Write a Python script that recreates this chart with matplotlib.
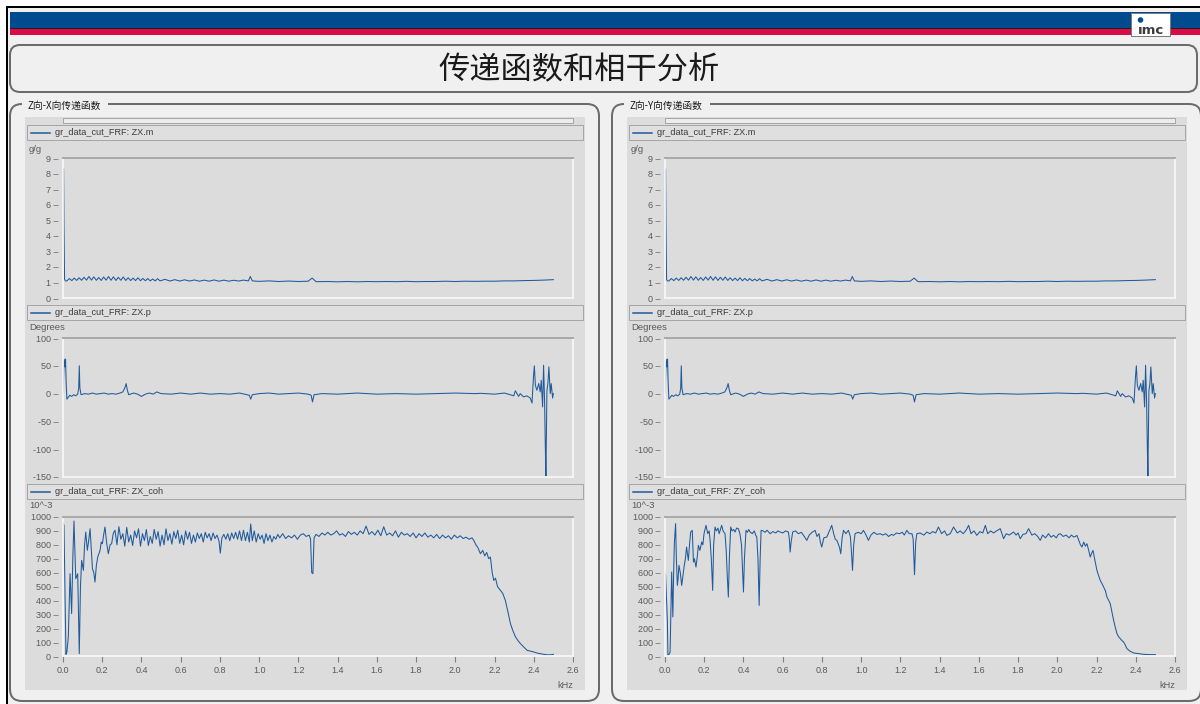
import matplotlib
matplotlib.use("Agg")
import matplotlib.pyplot as plt
from matplotlib.patches import Rectangle, FancyBboxPatch, Circle

# ---- data -------------------------------------------------------------------
title = "传递函数和相干分析"
group_titles = ["Z向-X向传递函数", "Z向-Y向传递函数"]
mag_legend = ["gr_data_cut_FRF: ZX.m", "gr_data_cut_FRF: ZX.m"]
phase_legend = ["gr_data_cut_FRF: ZX.p", "gr_data_cut_FRF: ZX.p"]
coh_legend = ["gr_data_cut_FRF: ZX_coh", "gr_data_cut_FRF: ZY_coh"]
units = ["g/g", "Degrees", "10^-3"]

mag_ticks = [0, 1, 2, 3, 4, 5, 6, 7, 8, 9]
phase_ticks = [-150, -100, -50, 0, 50, 100]
coh_ticks = [0, 100, 200, 300, 400, 500, 600, 700, 800, 900, 1000]
khz_ticks = [0.0, 0.2, 0.4, 0.6, 0.8, 1.0, 1.2, 1.4, 1.6, 1.8, 2.0, 2.2, 2.4, 2.6]

# magnitude (same trace in both panels)
mag_khz = [0.000, 0.003, 0.005, 0.008, 0.012, 0.020, 0.032, 0.045, 0.057, 0.070,
           0.082, 0.095, 0.107, 0.120, 0.132, 0.145, 0.157, 0.170, 0.182, 0.195,
           0.207, 0.220, 0.232, 0.245, 0.257, 0.270, 0.282, 0.295, 0.307, 0.320,
           0.332, 0.345, 0.357, 0.370, 0.382, 0.395, 0.407, 0.420, 0.432, 0.445,
           0.457, 0.470, 0.482, 0.495, 0.520, 0.545, 0.570, 0.595, 0.620, 0.645,
           0.670, 0.695, 0.720, 0.745, 0.770, 0.795, 0.820, 0.845, 0.870, 0.895,
           0.920, 0.945, 0.955, 0.965, 1.00, 1.05, 1.10, 1.15, 1.20, 1.25,
           1.27, 1.29, 1.35, 1.40, 1.45, 1.50, 1.55, 1.60, 1.65, 1.70,
           1.75, 1.80, 1.85, 1.90, 1.95, 2.00, 2.05, 2.10, 2.15, 2.20,
           2.25, 2.30, 2.35, 2.40, 2.45, 2.50]
mag_val = [8.3, 8.3, 4.6, 1.2, 1.1, 1.10, 1.25, 1.12, 1.28, 1.13,
           1.30, 1.14, 1.33, 1.15, 1.38, 1.15, 1.36, 1.14, 1.32, 1.13,
           1.35, 1.15, 1.38, 1.14, 1.36, 1.13, 1.33, 1.14, 1.35, 1.13,
           1.30, 1.12, 1.28, 1.12, 1.30, 1.11, 1.26, 1.11, 1.25, 1.10,
           1.22, 1.10, 1.24, 1.10, 1.20, 1.09, 1.18, 1.09, 1.17, 1.09,
           1.16, 1.08, 1.15, 1.08, 1.16, 1.08, 1.15, 1.08, 1.14, 1.09,
           1.15, 1.10, 1.38, 1.10, 1.07, 1.10, 1.06, 1.09, 1.06, 1.08,
           1.28, 1.05, 1.06, 1.04, 1.06, 1.04, 1.06, 1.05, 1.06, 1.05,
           1.07, 1.05, 1.06, 1.06, 1.08, 1.06, 1.08, 1.07, 1.08, 1.08,
           1.10, 1.10, 1.12, 1.13, 1.15, 1.18]

# phase in degrees (same trace in both panels)
ph_khz = [0.000, 0.003, 0.006, 0.010, 0.013, 0.016, 0.020, 0.026, 0.035, 0.044,
          0.055, 0.065, 0.075, 0.080, 0.083, 0.086, 0.092, 0.110, 0.130, 0.150,
          0.170, 0.190, 0.210, 0.230, 0.250, 0.270, 0.290, 0.305, 0.315, 0.322,
          0.328, 0.335, 0.360, 0.380, 0.400, 0.420, 0.440, 0.460, 0.478, 0.500,
          0.550, 0.600, 0.650, 0.700, 0.750, 0.800, 0.850, 0.900, 0.950, 0.957,
          0.965, 1.000, 1.050, 1.100, 1.150, 1.200, 1.250, 1.265, 1.272, 1.280,
          1.320, 1.400, 1.500, 1.600, 1.700, 1.800, 1.900, 2.000, 2.100, 2.130,
          2.200, 2.250, 2.280, 2.298, 2.306, 2.323, 2.331, 2.348, 2.365, 2.382,
          2.391, 2.396, 2.399, 2.403, 2.408, 2.416, 2.425, 2.433, 2.438, 2.445,
          2.450, 2.455, 2.459, 2.462, 2.464, 2.467, 2.472, 2.477, 2.484, 2.489,
          2.496, 2.500]
ph_deg = [0, 30, 62, 48, 62, 20, -10, -7, -3, -5,
          -2, -4, -1, 10, 50, 10, -2, 0, -1, 1,
          -1, 0, 1, -1, 0, -1, 1, 3, 10, 18,
          6, -2, 1, -1, -5, -1, 1, -1, 3, 0,
          -1, 1, -1, 1, -1, 0, -1, 1, -3, -10,
          -2, 0, 1, -1, 0, 1, -1, -3, -15, -2,
          0, -1, 1, -1, 0, -1, 0, 1, 0, 0.5,
          -1, 1, -2, -4, 5, -5, 0, -6, -4, -8,
          -17, 15, 33, 50, 15, 6, 18, 3, 24, -24,
          51, -12, -98, -149, -83, 5, 18, 48, 0, 18,
          -8, 0]

# coherence Z/X (x 10^-3)
cohx_khz = [0.000, 0.005, 0.010, 0.015, 0.020, 0.027, 0.036, 0.044, 0.050, 0.056,
            0.065, 0.075, 0.079, 0.083, 0.089, 0.095, 0.104, 0.110, 0.116, 0.124,
            0.130, 0.138, 0.150, 0.157, 0.163, 0.170, 0.177, 0.189, 0.195, 0.201,
            0.207, 0.214, 0.222, 0.231, 0.240, 0.248, 0.256, 0.265, 0.275, 0.285,
            0.295, 0.305, 0.315, 0.325, 0.335, 0.345, 0.355, 0.365, 0.375, 0.385,
            0.395, 0.405, 0.415, 0.425, 0.435, 0.445, 0.455, 0.465, 0.475, 0.485,
            0.495, 0.505, 0.515, 0.525, 0.535, 0.545, 0.555, 0.565, 0.575, 0.585,
            0.595, 0.605, 0.615, 0.625, 0.635, 0.645, 0.655, 0.665, 0.675, 0.685,
            0.695, 0.705, 0.715, 0.725, 0.735, 0.745, 0.755, 0.765, 0.775, 0.785,
            0.795, 0.802, 0.810, 0.820, 0.830, 0.840, 0.850, 0.860, 0.870, 0.880,
            0.890, 0.900, 0.910, 0.920, 0.930, 0.940, 0.950, 0.957, 0.965, 0.975,
            0.985, 0.995, 1.005, 1.015, 1.025, 1.035, 1.045, 1.055, 1.065, 1.075,
            1.085, 1.095, 1.105, 1.120, 1.135, 1.150, 1.165, 1.180, 1.195, 1.210,
            1.225, 1.240, 1.255, 1.262, 1.268, 1.274, 1.280, 1.290, 1.305, 1.320,
            1.335, 1.350, 1.365, 1.380, 1.395, 1.410, 1.425, 1.440, 1.455, 1.470,
            1.485, 1.500, 1.515, 1.530, 1.545, 1.560, 1.575, 1.590, 1.605, 1.620,
            1.635, 1.650, 1.665, 1.680, 1.695, 1.710, 1.725, 1.740, 1.755, 1.770,
            1.785, 1.800, 1.815, 1.830, 1.845, 1.860, 1.875, 1.890, 1.905, 1.920,
            1.935, 1.950, 1.965, 1.980, 1.995, 2.010, 2.025, 2.040, 2.055, 2.070,
            2.085, 2.094, 2.105, 2.115, 2.128, 2.140, 2.150, 2.160, 2.170, 2.179,
            2.188, 2.196, 2.205, 2.215, 2.230, 2.242, 2.255, 2.268, 2.281, 2.294,
            2.307, 2.320, 2.332, 2.345, 2.366, 2.383, 2.400, 2.420, 2.440, 2.460,
            2.480, 2.500]
cohx_val = [960, 940, 472, 12, 30, 137, 592, 305, 700, 971,
            556, 592, 300, 17, 500, 688, 616, 800, 892, 760,
            820, 916, 628, 600, 532, 650, 712, 760, 820, 808,
            870, 928, 820, 736, 800, 808, 880, 905, 800, 930,
            840, 880, 790, 925, 820, 870, 795, 900, 850, 915,
            790, 880, 830, 910, 795, 860, 810, 910, 840, 895,
            790, 870, 800, 915, 830, 880, 805, 895, 845, 905,
            810, 870, 800, 900, 840, 890, 810, 870, 820, 885,
            845, 880, 820, 890, 850, 880, 830, 885, 845, 870,
            830, 740, 850, 875, 840, 880, 830, 885, 845, 890,
            840, 900, 830, 905, 830, 890, 820, 950, 830, 900,
            820, 880, 840, 870, 810, 880, 830, 870, 820, 860,
            840, 875, 850, 880, 845, 865, 850, 870, 840, 870,
            880, 860, 870, 840, 600, 592, 850, 875, 860, 885,
            870, 890, 870, 880, 900, 870, 880, 860, 895, 875,
            890, 870, 900, 880, 935, 875, 895, 870, 905, 865,
            930, 870, 885, 865, 900, 855, 890, 870, 880, 860,
            885, 850, 880, 860, 885, 855, 870, 850, 875, 845,
            870, 850, 865, 840, 870, 850, 865, 845, 855, 840,
            850, 832, 800, 780, 736, 760, 720, 745, 700, 712,
            600, 544, 560, 500, 472, 450, 400, 320, 233, 180,
            137, 110, 89, 70, 41, 35, 29, 20, 15, 10,
            8, 12]

# coherence Z/Y (x 10^-3)
cohy_khz = [0.000, 0.003, 0.008, 0.012, 0.015, 0.020, 0.026, 0.030, 0.034, 0.040,
            0.044, 0.048, 0.054, 0.058, 0.063, 0.067, 0.071, 0.078, 0.085, 0.090,
            0.097, 0.104, 0.110, 0.119, 0.125, 0.131, 0.139, 0.145, 0.150, 0.158,
            0.165, 0.170, 0.178, 0.187, 0.193, 0.199, 0.209, 0.218, 0.225, 0.230,
            0.236, 0.243, 0.248, 0.255, 0.262, 0.270, 0.276, 0.281, 0.289, 0.296,
            0.306, 0.312, 0.318, 0.323, 0.328, 0.335, 0.342, 0.350, 0.357, 0.365,
            0.374, 0.382, 0.390, 0.396, 0.400, 0.405, 0.413, 0.420, 0.427, 0.434,
            0.445, 0.455, 0.462, 0.468, 0.474, 0.480, 0.485, 0.490, 0.500, 0.510,
            0.520, 0.536, 0.550, 0.565, 0.575, 0.587, 0.600, 0.615, 0.629, 0.634,
            0.638, 0.643, 0.651, 0.665, 0.680, 0.695, 0.710, 0.723, 0.735, 0.750,
            0.765, 0.775, 0.785, 0.792, 0.799, 0.810, 0.825, 0.835, 0.850, 0.860,
            0.868, 0.876, 0.885, 0.890, 0.896, 0.903, 0.910, 0.922, 0.935, 0.945,
            0.950, 0.956, 0.962, 0.969, 0.985, 1.000, 1.012, 1.025, 1.037, 1.050,
            1.065, 1.080, 1.097, 1.110, 1.125, 1.140, 1.155, 1.165, 1.180, 1.195,
            1.210, 1.220, 1.233, 1.245, 1.259, 1.265, 1.272, 1.278, 1.284, 1.300,
            1.320, 1.335, 1.350, 1.365, 1.380, 1.394, 1.410, 1.425, 1.437, 1.454,
            1.471, 1.490, 1.505, 1.520, 1.535, 1.548, 1.560, 1.575, 1.590, 1.605,
            1.620, 1.633, 1.645, 1.660, 1.675, 1.690, 1.709, 1.718, 1.726, 1.740,
            1.755, 1.777, 1.790, 1.800, 1.811, 1.825, 1.840, 1.854, 1.870, 1.885,
            1.900, 1.913, 1.925, 1.940, 1.955, 1.968, 1.981, 1.995, 2.005, 2.015,
            2.030, 2.045, 2.060, 2.072, 2.083, 2.092, 2.100, 2.110, 2.118, 2.126,
            2.135, 2.143, 2.151, 2.160, 2.168, 2.175, 2.182, 2.190, 2.202, 2.210,
            2.219, 2.228, 2.236, 2.245, 2.253, 2.262, 2.270, 2.278, 2.287, 2.295,
            2.304, 2.312, 2.321, 2.330, 2.338, 2.346, 2.355, 2.370, 2.389, 2.410,
            2.440, 2.470, 2.500]
cohy_val = [600, 580, 400, 257, 5, 10, 29, 300, 604, 281,
            600, 820, 952, 700, 508, 560, 652, 600, 508, 560,
            640, 700, 784, 688, 800, 892, 904, 676, 700, 640,
            720, 796, 760, 820, 800, 880, 940, 880, 900, 832,
            700, 472, 800, 928, 900, 920, 880, 904, 940, 900,
            880, 760, 560, 424, 700, 928, 900, 910, 892, 920,
            916, 880, 800, 600, 460, 700, 904, 890, 910, 892,
            880, 900, 870, 856, 700, 364, 700, 904, 900, 890,
            905, 880, 895, 885, 900, 892, 885, 900, 892, 840,
            748, 820, 892, 900, 880, 890, 860, 832, 870, 890,
            904, 860, 880, 820, 784, 850, 856, 890, 940, 880,
            840, 832, 800, 780, 736, 850, 904, 880, 904, 860,
            760, 616, 800, 880, 890, 880, 904, 870, 832, 870,
            890, 875, 880, 870, 880, 860, 875, 868, 885, 880,
            890, 870, 904, 880, 880, 844, 585, 820, 880, 885,
            870, 892, 880, 895, 885, 928, 880, 900, 868, 880,
            928, 885, 900, 880, 905, 940, 880, 900, 868, 895,
            885, 940, 880, 900, 885, 900, 916, 880, 844, 880,
            870, 892, 870, 885, 844, 875, 880, 916, 870, 880,
            860, 832, 870, 850, 880, 855, 868, 850, 875, 880,
            860, 870, 850, 870, 856, 860, 868, 830, 800, 784,
            820, 790, 808, 760, 712, 740, 760, 700, 616, 580,
            544, 520, 496, 470, 424, 400, 376, 320, 257, 210,
            161, 140, 125, 110, 101, 80, 53, 35, 22, 18,
            12, 10, 10]

# ---- colours ---------------------------------------------------------------
WIN = "#f0f0f0"
PANEL = "#dcdcdc"
FRAME = "#6b6b6b"
LINE = "#1f5a9c"
TICK = "#5a5a5a"
IMC_BLUE = "#004b8d"
IMC_RED = "#d80a48"

W, H = 1200, 704
PX = 0.72  # points per pixel at dpi 100

fig = plt.figure(figsize=(12, 7.04), dpi=100)
fig.patch.set_facecolor("white")
bg = fig.add_axes([0, 0, 1, 1])
bg.set_xlim(0, W)
bg.set_ylim(H, 0)
bg.axis("off")

cjk = ["Noto Sans CJK SC", "DejaVu Sans"]

# window frame + header
bg.add_patch(Rectangle((7, 7), W, H, facecolor=WIN, edgecolor="black", lw=2 * PX))
bg.add_patch(Rectangle((10, 12), W - 10, 16, facecolor=IMC_BLUE, edgecolor="none"))
bg.add_patch(Rectangle((10, 28), W - 10, 1.2, facecolor="#202020", edgecolor="none"))
bg.add_patch(Rectangle((10, 29.2), W - 10, 6, facecolor=IMC_RED, edgecolor="none"))
bg.add_patch(Rectangle((1131, 13), 39, 23, facecolor="white", edgecolor="#7a7a7a", lw=PX))
bg.add_patch(Circle((1140.5, 20), 2.8, facecolor=IMC_BLUE, edgecolor="none"))
bg.text(1151, 30, "\u0131mc", ha="center", va="center", fontsize=9.5, weight="bold",
        color="#3c3c3c", family="DejaVu Sans")

# title box
bg.add_patch(FancyBboxPatch((10, 45), 1187, 47, boxstyle="round,pad=0,rounding_size=10",
                            facecolor=WIN, edgecolor=FRAME, lw=2 * PX))
bg.text(579, 70, title, ha="center", va="center", fontsize=22.5, family=cjk, color="#1a1a1a")


def px_axes(x0, y0, x1, y1):
    return fig.add_axes([x0 / W, 1 - y1 / H, (x1 - x0) / W, (y1 - y0) / H])


def chart(ax, khz, vals, ylim, ticks, show_x):
    ax.set_facecolor(PANEL)
    ax.plot(khz, vals, color=LINE, lw=0.75)
    ax.set_xlim(0, 2.6)
    ax.set_ylim(*ylim)
    ax.set_yticks(ticks)
    ax.set_yticklabels([f"{t} \u2013" for t in ticks])
    ax.tick_params(axis="y", length=0, pad=3, labelsize=6.5, labelcolor=TICK)
    ax.set_xticks(khz_ticks)
    if show_x:
        ax.set_xticklabels([f"{t:.1f}" for t in khz_ticks])
        ax.tick_params(axis="x", length=4, width=0.8, color="#808080", pad=3,
                       labelsize=6.5, labelcolor=TICK)
    else:
        ax.set_xticklabels([])
        ax.tick_params(axis="x", length=0)
    for side in ("left", "bottom", "right"):
        ax.spines[side].set_color("#f8f8f8")
        ax.spines[side].set_linewidth(1.2)
    ax.spines["top"].set_color("#a8a8a8")
    ax.spines["top"].set_linewidth(1.4)
    for lab in ax.get_yticklabels() + ax.get_xticklabels():
        lab.set_family("Liberation Sans")


def legend_strip(x, y, text):
    bg.add_patch(Rectangle((x + 27, y), 556, 15, facecolor="#dfdfdf", edgecolor="#a6a6a6", lw=PX))
    bg.plot([x + 31, x + 50], [y + 7.5, y + 7.5], color=LINE, lw=1.1)
    bg.text(x + 55, y + 7.8, text, ha="left", va="center", fontsize=6.6,
            family="Liberation Sans", color="#3a3a3a")


for i, dx in enumerate([0, 602]):
    # group box with title breaking the top line
    bg.add_patch(FancyBboxPatch((10 + dx, 104), 589, 597, boxstyle="round,pad=0,rounding_size=12",
                                facecolor=WIN, edgecolor=FRAME, lw=2 * PX))
    bg.add_patch(Rectangle((22 + dx, 100), 86, 8, facecolor=WIN, edgecolor="none"))
    bg.text(27 + dx, 105.5, group_titles[i], ha="left", va="center", fontsize=7,
            family=cjk, color="#1a1a1a")
    # grey chart panel
    bg.add_patch(Rectangle((25 + dx, 117), 560, 573, facecolor=PANEL, edgecolor="none"))
    bg.add_patch(Rectangle((63 + dx, 118), 510, 5, facecolor="#ececec", edgecolor="#a6a6a6", lw=PX))

    legend_strip(dx, 125, mag_legend[i])
    legend_strip(dx, 305, phase_legend[i])
    legend_strip(dx, 484, coh_legend[i])
    for yy, u in zip([149, 328, 506], units):
        bg.text(29 + dx, yy, u, ha="left", va="center", fontsize=6.8,
                family="Liberation Sans", color=TICK)
    bg.text(565 + dx, 685, "kHz", ha="center", va="center", fontsize=6.6,
            family="Liberation Sans", color=TICK)

    chart(px_axes(63 + dx, 158, 573 + dx, 298), mag_khz, mag_val, (0, 9), mag_ticks, False)
    chart(px_axes(63 + dx, 338, 573 + dx, 477), ph_khz, ph_deg, (-150, 100), phase_ticks, False)
    coh_k = cohx_khz if i == 0 else cohy_khz
    coh_v = cohx_val if i == 0 else cohy_val
    chart(px_axes(63 + dx, 517, 573 + dx, 656), coh_k, coh_v, (0, 1000), coh_ticks, True)

fig.savefig("out.png", dpi=100)
